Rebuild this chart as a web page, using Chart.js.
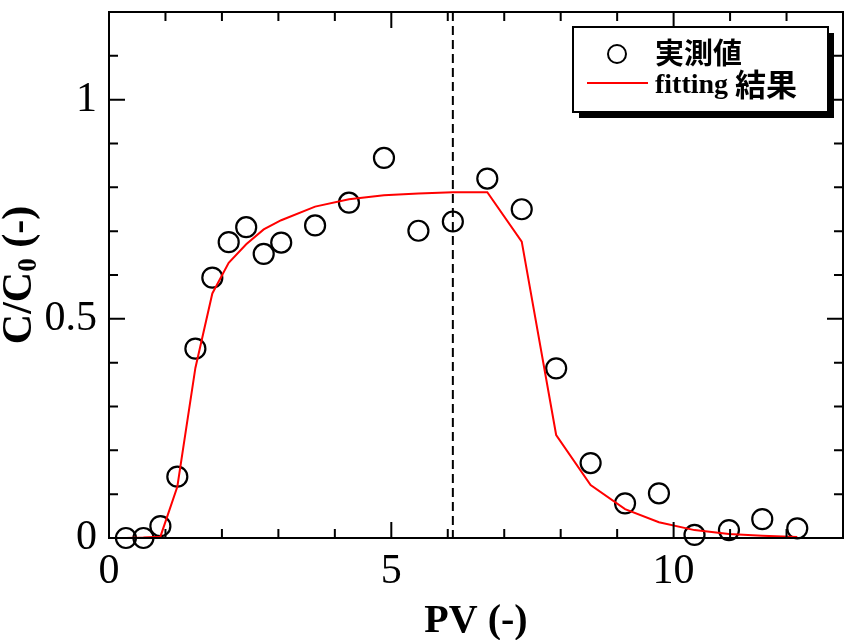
<!DOCTYPE html>
<html>
<head>
<meta charset="utf-8">
<script src="https://cdn.jsdelivr.net/npm/chart.js@4/dist/chart.umd.min.js"></script>
<style>
html,body{margin:0;padding:0;background:#fff;}
#wrap{width:846px;height:640px;position:relative;}
</style>
</head>
<body>
<div id="wrap"><canvas id="c"></canvas></div>
<script>
// ---- data ----
const pv = [0.30, 0.61, 0.91, 1.21, 1.53, 1.83, 2.12, 2.43, 2.74, 3.05, 3.65, 4.25, 4.87, 5.48, 6.09, 6.70, 7.31, 7.92, 8.53, 9.14, 9.74, 10.37, 10.98, 11.57, 12.19];
const measured = [0.000, 0.000, 0.027, 0.140, 0.432, 0.594, 0.675, 0.709, 0.648, 0.674, 0.713, 0.765, 0.867, 0.701, 0.722, 0.820, 0.750, 0.387, 0.171, 0.079, 0.102, 0.007, 0.018, 0.043, 0.022];
const fitted = [0.000, 0.001, 0.003, 0.117, 0.388, 0.558, 0.628, 0.670, 0.704, 0.725, 0.756, 0.773, 0.782, 0.786, 0.789, 0.789, 0.676, 0.235, 0.121, 0.066, 0.036, 0.018, 0.009, 0.005, 0.002];
const dashX = 6.09;
const xTickLabels = ['0', '5', '10'];
const yTickLabels = ['0', '0.5', '1'];
const legendLabels = ['実測値', 'fitting ', '結果'];
const xTitle = 'PV (-)';
const yTitleParts = ['C/C', '0', ' (-)'];

const serif = '"Liberation Serif", "Times New Roman", serif';
const cjk = '"Noto Sans CJK JP", "Noto Sans CJK SC", sans-serif';

const framePlugin = {
  id: 'frame',
  afterDatasetsDraw(chart) {
    const ctx = chart.ctx;
    const a = chart.chartArea;
    const xs = chart.scales.x, ys = chart.scales.y;
    ctx.save();
    ctx.strokeStyle = '#000';
    ctx.lineWidth = 2;
    ctx.setLineDash([9, 5]);
    const dx = xs.getPixelForValue(dashX);
    ctx.beginPath();
    ctx.moveTo(dx, a.top);
    ctx.lineTo(dx, a.bottom);
    ctx.stroke();
    ctx.setLineDash([]);
    ctx.lineWidth = 2;
    ctx.beginPath();
    ctx.moveTo(a.left, a.top); ctx.lineTo(a.right, a.top);
    ctx.lineTo(a.right, a.bottom); ctx.lineTo(a.left, a.bottom);
    ctx.lineTo(a.left, a.top);
    ctx.stroke();
    ctx.beginPath();
    for (let v = 0; v <= 13; v++) {
      const p = xs.getPixelForValue(v);
      const L = (v % 5 === 0) ? 16 : 9;
      ctx.moveTo(p, a.bottom); ctx.lineTo(p, a.bottom - L);
      ctx.moveTo(p, a.top); ctx.lineTo(p, a.top + L);
    }
    for (let i = 0; i <= 12; i++) {
      const p = ys.getPixelForValue(i / 10);
      const L = (i % 5 === 0) ? 16 : 9;
      ctx.moveTo(a.left, p); ctx.lineTo(a.left + L, p);
      ctx.moveTo(a.right, p); ctx.lineTo(a.right - L, p);
    }
    ctx.stroke();
    ctx.restore();
  },
  afterDraw(chart) {
    const ctx = chart.ctx;
    const a = chart.chartArea;
    ctx.save();
    ctx.translate(20, (a.top + a.bottom) / 2);
    ctx.rotate(-Math.PI / 2);
    ctx.fillStyle = '#000';
    ctx.textBaseline = 'middle';
    const big = 'bold 42px ' + serif, small = 'bold 27px ' + serif;
    ctx.font = big; const w1 = ctx.measureText(yTitleParts[0]).width;
    const w3 = ctx.measureText(yTitleParts[2]).width;
    ctx.font = small; const w2 = ctx.measureText(yTitleParts[1]).width;
    let x0 = -(w1 + w2 + w3) / 2;
    ctx.font = big; ctx.textAlign = 'left';
    ctx.fillText(yTitleParts[0], x0, 0);
    ctx.font = small; ctx.fillText(yTitleParts[1], x0 + w1, 9);
    ctx.font = big; ctx.fillText(yTitleParts[2], x0 + w1 + w2, 0);
    ctx.restore();

    ctx.save();
    ctx.fillStyle = '#000';
    ctx.font = 'bold 40px ' + serif;
    ctx.textAlign = 'center';
    ctx.textBaseline = 'alphabetic';
    ctx.fillText(xTitle, (a.left + a.right) / 2, 632);
    ctx.restore();

    ctx.save();
    const bx = 573, by = 27, bw = 255, bh = 85;
    ctx.fillStyle = '#000';
    ctx.fillRect(bx + 6, by + 6, bw, bh);
    ctx.fillStyle = '#fff';
    ctx.fillRect(bx, by, bw, bh);
    ctx.strokeStyle = '#000';
    ctx.lineWidth = 2;
    ctx.strokeRect(bx, by, bw, bh);
    ctx.beginPath();
    ctx.arc(617, 54, 9, 0, Math.PI * 2);
    ctx.stroke();
    ctx.strokeStyle = '#ff0000';
    ctx.beginPath();
    ctx.moveTo(587, 83); ctx.lineTo(648, 83);
    ctx.stroke();
    ctx.fillStyle = '#000';
    ctx.textAlign = 'left';
    ctx.textBaseline = 'middle';
    ctx.font = 'bold 29px ' + cjk;
    ctx.fillText(legendLabels[0], 655, 53);
    ctx.textBaseline = 'alphabetic';
    ctx.font = 'bold 28px ' + serif;
    ctx.fillText(legendLabels[1], 655, 93);
    const wf = ctx.measureText(legendLabels[1]).width;
    ctx.font = 'bold 31px ' + cjk;
    ctx.textBaseline = 'middle';
    ctx.fillText(legendLabels[2], 655 + wf, 84);
    ctx.restore();
  }
};

new Chart(document.getElementById('c'), {
  type: 'scatter',
  data: {
    datasets: [
      {
        type: 'line',
        label: 'fitting 結果',
        data: pv.map((x, i) => ({ x: x, y: fitted[i] })),
        borderColor: '#ff0000',
        borderWidth: 2,
        pointRadius: 0,
        fill: false,
        tension: 0,
        order: 0
      },
      {
        label: '実測値',
        data: pv.map((x, i) => ({ x: x, y: measured[i] })),
        pointStyle: 'circle',
        pointRadius: 10,
        pointBorderWidth: 2.2,
        pointBorderColor: '#000',
        pointBackgroundColor: 'rgba(255,255,255,0)',
        borderColor: '#000',
        backgroundColor: 'rgba(255,255,255,0)',
        showLine: false,
        clip: false,
        order: 1
      }
    ]
  },
  options: {
    responsive: true,
    maintainAspectRatio: false,
    animation: false,
    devicePixelRatio: 1,
    layout: { autoPadding: false, padding: { top: 12, right: 3, left: 0, bottom: 0 } },
    plugins: { legend: { display: false }, tooltip: { enabled: false } },
    scales: {
      x: {
        type: 'linear', min: 0, max: 13,
        grid: { display: false },
        border: { display: true, color: '#000', width: 2 },
        ticks: {
          stepSize: 1, autoSkip: false, maxRotation: 0, padding: 1,
          color: '#000',
          font: { family: serif, size: 42 },
          callback: (v) => { const s = String(Math.round(v * 100) / 100); return xTickLabels.includes(s) ? s : ''; }
        },
        afterFit: (s) => { s.height = 102; s.paddingLeft = 0; s.paddingRight = 0; }
      },
      y: {
        type: 'linear', min: 0, max: 1.2,
        grid: { display: false },
        border: { display: true, color: '#000', width: 2 },
        ticks: {
          stepSize: 0.1, autoSkip: false, padding: 4,
          color: '#000',
          font: { family: serif, size: 42 },
          callback: (v) => { const s = String(Math.round(v * 100) / 100); return yTickLabels.includes(s) ? s : ''; }
        },
        afterFit: (s) => { s.width = 109; s.paddingTop = 0; s.paddingBottom = 0; }
      }
    }
  },
  plugins: [framePlugin]
});
</script>
</body>
</html>
